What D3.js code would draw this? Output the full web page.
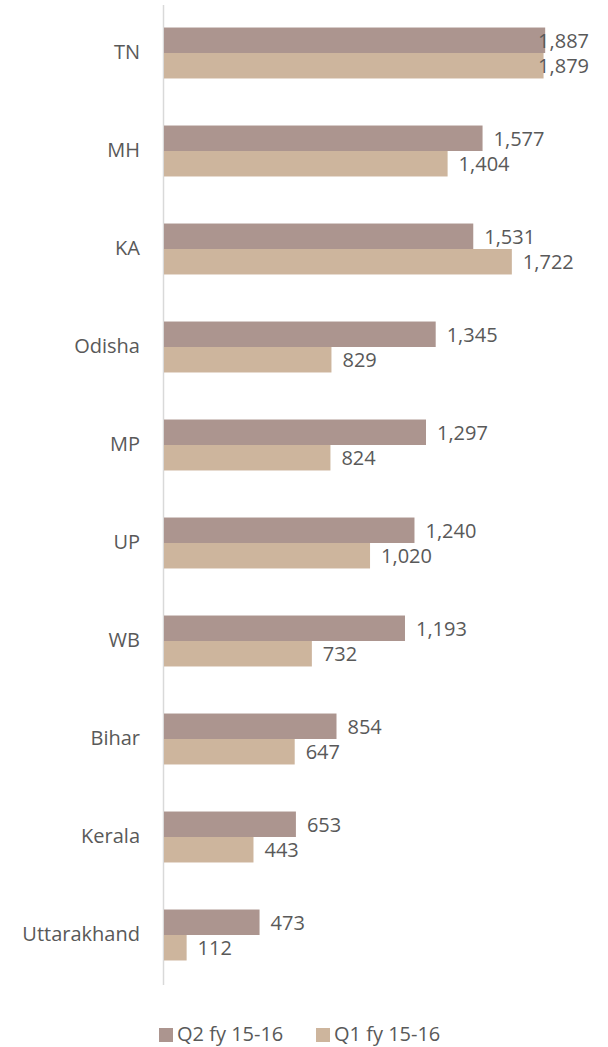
<!DOCTYPE html>
<html><head><meta charset="utf-8">
<script src="https://cdn.jsdelivr.net/npm/d3@7"></script>
<style>body{margin:0;background:#fff;} svg{display:block;}</style>
</head><body>
<svg id="chart" width="608" height="1047"></svg>
<script>
const categories = ["TN","MH","KA","Odisha","MP","UP","WB","Bihar","Kerala","Uttarakhand"];
const seriesNames = ["Q2 fy 15-16","Q1 fy 15-16"];
const q2Values = [1887,1577,1531,1345,1297,1240,1193,854,653,473];
const q1Values = [1879,1404,1722,829,824,1020,732,647,443,112];
const colors = ["#AC958F","#CDB59D"];

const svg = d3.select("#chart");
const font = "'Open Sans', sans-serif";
const fs = 20;
const x = d3.scaleLinear().domain([0,2000]).range([164,568]);
const y = d3.scaleBand().domain(categories).range([4,984]).paddingInner(0.48).paddingOuter(0.24);
const sub = d3.scaleBand().domain(seriesNames).range([0,y.bandwidth()]);
const fmt = d3.format(",");
const maxRight = 589;
const gap = 11;

svg.append("line").attr("x1",163.5).attr("x2",163.5).attr("y1",5).attr("y2",985)
  .attr("stroke","#D9D9D9").attr("stroke-width",1.5);

const data = categories.map((c,i)=>({c, vals:[q2Values[i],q1Values[i]]}));
const g = svg.selectAll("g.cat").data(data).join("g").attr("class","cat")
  .attr("transform",d=>`translate(0,${y(d.c)})`);

g.selectAll("rect").data(d=>d.vals.map((v,j)=>({v,s:seriesNames[j],j}))).join("rect")
  .attr("x",x(0)).attr("y",d=>sub(d.s)).attr("width",d=>x(d.v)-x(0)).attr("height",sub.bandwidth())
  .attr("fill",d=>colors[d.j]);

g.selectAll("text.val").data(d=>d.vals.map((v,j)=>({v,s:seriesNames[j],j}))).join("text")
  .attr("class","val")
  .attr("x",d=>x(d.v)+gap)
  .attr("y",d=>sub(d.s)+sub.bandwidth()/2+2)
  .attr("dominant-baseline","middle")
  .attr("font-family",font).attr("font-size",fs).attr("fill","#595959")
  .text(d=>fmt(d.v))
  .each(function(d){
    const w = this.getComputedTextLength();
    if (x(d.v)+gap+w > maxRight) d3.select(this).attr("x",maxRight).attr("text-anchor","end");
  });

svg.selectAll("text.cat").data(categories).join("text").attr("class","cat")
  .attr("x",140).attr("y",d=>y(d)+y.bandwidth()/2+1)
  .attr("text-anchor","end").attr("dominant-baseline","middle")
  .attr("font-family",font).attr("font-size",fs).attr("fill","#595959")
  .text(d=>d);

const legX = [159,316];
const leg = svg.selectAll("g.leg").data(seriesNames).join("g").attr("class","leg")
  .attr("transform",(d,i)=>`translate(${legX[i]},1028)`);
leg.append("rect").attr("width",14).attr("height",14).attr("fill",(d,i)=>colors[i]);
leg.append("text").attr("x",18).attr("y",8).attr("dominant-baseline","middle")
  .attr("font-family",font).attr("font-size",fs).attr("fill","#595959").text(d=>d);
</script>
</body></html>
